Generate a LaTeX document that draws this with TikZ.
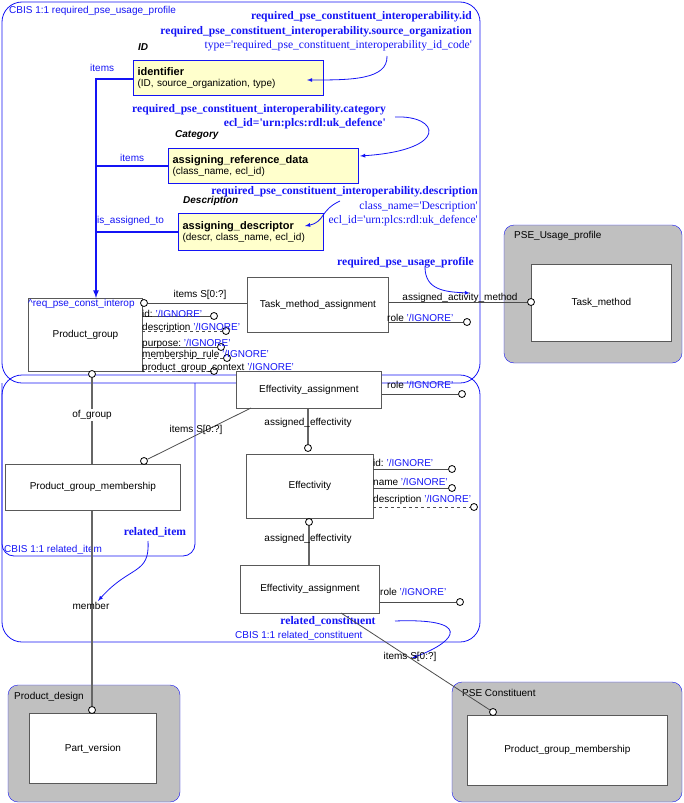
\documentclass[tikz,border=0pt]{standalone}
\usepackage{fontspec}
\setmainfont{Liberation Sans}
\newfontfamily\serifbl{Liberation Serif}
\usetikzlibrary{arrows}
\definecolor{mapblue}{RGB}{20,20,245}
\definecolor{refyellow}{RGB}{255,255,204}
\definecolor{schemagray}{RGB}{192,192,192}
\begin{document}
\begin{tikzpicture}[
    x=1pt, y=-1pt,
    every node/.style={font=\fontsize{10}{11.5}\selectfont},
    % Entity styles
    entity/.style={draw=black!65, thick, fill=white, anchor=north west, inner sep=0pt},
    refbox/.style={draw=mapblue, very thick, fill=refyellow, anchor=north west, align=left, inner sep=4pt},
    schema/.style={draw=mapblue, fill=schemagray, rounded corners=10pt},
    frame/.style={draw=mapblue, thick, rounded corners=20pt},
    % Connectors
    rel/.style={draw=black!60, very thick},
    attr/.style={draw=black!70, thick},
    optattr/.style={draw=black!70, thick, dashed},
    endpt/.style={circle, draw=black, thick, fill=white, inner sep=0pt, minimum size=7pt},
    mapline/.style={draw=mapblue, ultra thick},
    maparrow/.style={draw=mapblue, thick, -latex},
    % Labels
    maplabel/.style={font=\serifbl\fontsize{11.6}{12}\selectfont\bfseries, text=mapblue, inner sep=1pt},
    mapval/.style={font=\serifbl\fontsize{11.6}{12}\selectfont, text=mapblue, inner sep=1pt},
    blue/.style={text=mapblue, inner sep=1pt},
    lbl/.style={inner sep=1pt},
    heading/.style={inner sep=1pt, anchor=west, font=\fontsize{10}{11.5}\selectfont\bfseries\itshape},
]
\useasboundingbox (0,0) rectangle (683,803);

% === FRAMES ===
\draw[frame] (2,375) rectangle (480,642);
\draw[frame] (2,2) rectangle (480,383);
\draw[draw=mapblue, thick, rounded corners=12pt] (2,383) -- (2,556) -- (195,556) -- (195,383);
\node[blue, anchor=west] (fr1) at (8,11) {CBIS 1:1 required\_pse\_usage\_profile};
\node[blue, anchor=west] (fr2) at (3,550) {CBIS 1:1 related\_item};
\node[blue, anchor=west] (fr3) at (234,636) {CBIS 1:1 related\_constituent};

% === SCHEMA BOXES ===
\draw[schema] (504,225) rectangle (682,363);
\node[lbl, anchor=west] (pup) at (513,236) {PSE\_Usage\_profile};
\draw[schema] (8,685) rectangle (180,802);
\node[lbl, anchor=west] (pd) at (13,697) {Product\_design};
\draw[schema] (452,682) rectangle (682,802);
\node[lbl, anchor=west] (pc) at (461,693) {PSE Constituent};

% === ENTITIES ===
\node[entity, minimum width=140pt, minimum height=77pt] (tm) at (531,264) {Task\_method};
\node[entity, minimum width=127pt, minimum height=70pt] (pv) at (29,713) {Part\_version};
\node[entity, minimum width=200pt, minimum height=70pt] (pgm2) at (467,715) {Product\_group\_membership};
\node[entity, minimum width=114pt, minimum height=73pt] (pg) at (28,298) {Product\_group};
\node[blue, anchor=north west, inner sep=0pt] (pgi) at (28,299) {\^{}req\_pse\_const\_interop};
\node[entity, minimum width=141pt, minimum height=55pt] (tma) at (247,277) {Task\_method\_assignment};
\node[entity, minimum width=145pt, minimum height=37pt] (ea1) at (236,371) {Effectivity\_assignment};
\node[entity, minimum width=175pt, minimum height=46pt] (pgm) at (5,464) {Product\_group\_membership};
\node[entity, minimum width=127pt, minimum height=64pt] (eff) at (246,454) {Effectivity};
\node[entity, minimum width=139pt, minimum height=48pt] (ea2) at (240,565) {Effectivity\_assignment};

% === REFERENCE DATA ===
\node[refbox, text width=182pt, minimum height=35pt] (idf) at (133,60) {{\fontsize{11}{12}\selectfont\bfseries identifier}\\(ID, source\_organization, type)};
\node[refbox, text width=182pt, minimum height=35pt] (ard) at (168,148) {{\fontsize{11}{12}\selectfont\bfseries assigning\_reference\_data}\\(class\_name, ecl\_id)};
\node[refbox, text width=137pt, minimum height=37pt] (ads) at (178,213) {{\fontsize{11}{12}\selectfont\bfseries assigning\_descriptor}\\(descr, class\_name, ecl\_id)};
\node[heading] (idl) at (137,47) {ID};
\node[heading] (catl) at (174,135) {Category};
\node[heading] (desl) at (182,201) {Description};

\coordinate (trunk) at (96,79);
\draw[mapline] (idf.west |- trunk) -- (trunk) -- (96,232);
\draw[mapline] (96,166) -- (ard.west |- 0,166);
\draw[mapline] (96,232) -- (ads.west |- 0,232);
\draw[mapline, -latex] (96,232) -- (pg.north -| 96,0);
\node[blue, anchor=west] (it1) at (89,68) {items};
\node[blue, anchor=west] (it2) at (119,158) {items};
\node[blue, anchor=west] (it3) at (96,221) {is\_assigned\_to};

% === MAPPING LABELS ===
\node[maplabel, anchor=east] (m1) at (473,17) {required\_pse\_constituent\_interoperability.id};
\node[maplabel, anchor=east] (m2) at (473,32) {required\_pse\_constituent\_interoperability.source\_organization};
\node[mapval, anchor=east] (m3) at (473,46) {type='required\_pse\_constituent\_interoperability\_id\_code'};
\draw[maparrow] (387,56) .. controls (388,80) and (350,80) .. (307,80);
\node[maplabel, anchor=east] (m4) at (387,110) {required\_pse\_constituent\_interoperability.category};
\node[maplabel, anchor=east] (m5) at (387,124) {ecl\_id='urn:plcs:rdl:uk\_defence'};
\draw[maparrow] (395,117) .. controls (440,115) and (450,150) .. (360,156);
\node[maplabel, anchor=east] (m6) at (479,192) {required\_pse\_constituent\_interoperability.description};
\node[mapval, anchor=east] (m7) at (479,207) {class\_name='Description'};
\node[mapval, anchor=east] (m8) at (479,221) {ecl\_id='urn:plcs:rdl:uk\_defence'};
\draw[maparrow] (340,201) .. controls (320,210) and (325,222) .. (305,226);
\node[maplabel, anchor=east] (m9) at (475,263) {required\_pse\_usage\_profile};
\draw[maparrow] (425,267) .. controls (425,290) and (445,292) .. (470,293);
\node[maplabel] (m10) at (155,532) {related\_item};
\draw[maparrow] (148,541) .. controls (150,575) and (130,565) .. (98,601);
\node[maplabel] (m11) at (328,621) {related\_constituent};
\draw[maparrow] (395,621) .. controls (470,618) and (460,640) .. (412,658);

% === PRODUCT_GROUP ATTRIBUTES ===
\node[endpt] (c0) at (144,303) {};
\draw[attr] (c0) -- (tma.west |- c0);
\node[lbl] at (200,295) {items S[0:?]};
\foreach \y/\xe/\sty/\nm/\txt in {316/214/attr/id:/{'/IGNORE'}, 331/226/optattr/description/{'/IGNORE'}, 347/221/attr/purpose:/{'/IGNORE'}, 358/227/optattr/membership\_rule/{'/IGNORE'}, 371/214/optattr/product\_group\_context/{'/IGNORE'}} {
    \node[endpt] (a\y) at (\xe,\y) {};
    \draw[\sty] (142,\y) -- (a\y);
    \node[lbl, anchor=south west, inner sep=0pt] at (142,\y+2) {\nm\ \textcolor{mapblue}{\txt}};
}

% === TASK_METHOD_ASSIGNMENT ===
\node[endpt] (ctm) at (tm.west |- 0,302) {};
\draw[attr] (tma.east |- ctm) -- (ctm);
\node[lbl] at (460,298) {assigned\_activity\_method};
\node[endpt] (ctr) at (467,322) {};
\draw[attr] (tma.east |- ctr) -- (ctr);
\node[lbl, anchor=west] at (386,318) {role \textcolor{mapblue}{'/IGNORE'}};

% === EFFECTIVITY ASSIGNMENTS ===
\node[endpt] (cr1) at (462,394) {};
\draw[attr] (ea1.east |- cr1) -- (cr1);
\node[lbl, anchor=west] at (386,385) {role \textcolor{mapblue}{'/IGNORE'}};
\node[endpt] (ce1) at (308,448) {};
\draw[rel] (ea1.south -| ce1) -- (ce1);
\node[lbl] at (308,423) {assigned\_effectivity};
\node[endpt] (cpgm) at (144,461) {};
\draw[attr] (251,408) -- (cpgm);
\node[lbl] at (196,430) {items S[0:?]};
\node[endpt] (ce2) at (309,522) {};
\draw[rel] (ce2) -- (ea2.north -| ce2);
\node[lbl] at (308,539) {assigned\_effectivity};
\node[endpt] (cr2) at (460,602) {};
\draw[attr] (ea2.east |- cr2) -- (cr2);
\node[lbl, anchor=west] at (379,592) {role \textcolor{mapblue}{'/IGNORE'}};
\node[endpt] (cpg2) at (493,712) {};
\draw[attr] (341,613) -- (cpg2);
\node[lbl] at (410,657) {items S[0:?]};

% === EFFECTIVITY ATTRIBUTES ===
\foreach \y/\xe/\sty/\nm in {469/452/attr/id:, 488/452/attr/name, 507/474/optattr/description} {
    \node[endpt] (e\y) at (\xe,\y) {};
    \draw[\sty] (373,\y) -- (e\y);
    \node[lbl, anchor=south west, inner sep=0pt] at (373,\y-2) {\nm\ \textcolor{mapblue}{'/IGNORE'}};
}

% === PRODUCT_GROUP_MEMBERSHIP ===
\node[endpt] (cog) at (92,374) {};
\draw[rel] (cog) -- (pgm.north -| cog);
\node[lbl, fill=white] at (92,415) {of\_group};
\node[endpt] (cpv) at (92,710) {};
\draw[rel] (pgm.south -| cpv) -- (cpv);
\node[lbl] at (91,606) {member};

\end{tikzpicture}
\end{document}
